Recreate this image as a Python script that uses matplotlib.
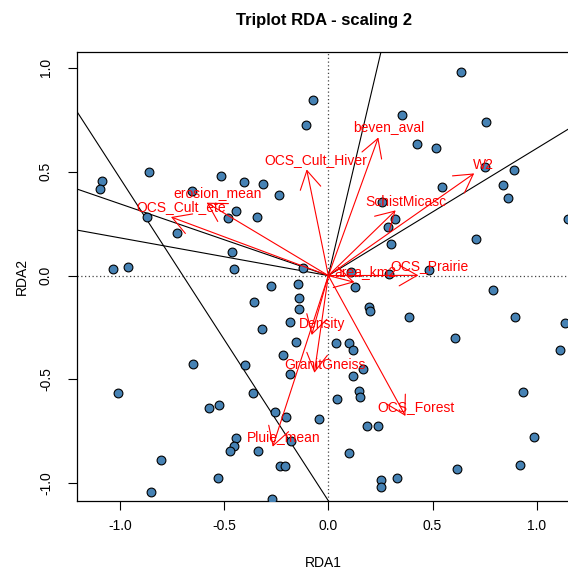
import matplotlib.pyplot as plt
import numpy as np

plt.rcParams['font.family'] = ['Liberation Sans', 'DejaVu Sans']

# site scores (RDA1, RDA2)
site_x = [-0.073, -0.106, -0.861, -1.086, -1.096, -0.515, -0.405, -0.315, -0.654, -0.237,
          -0.442, -0.481, -0.344, -0.870, -0.728, -0.462, -1.035, -0.962, -0.453, -0.121,
          0.637, 0.355, 0.759, 0.424, 0.519, 0.752, 0.890, 0.836, 0.863, 0.546,
          0.258, 0.322, 0.285, 0.300, 0.708, 1.151, 0.107, 0.293, 0.482,
          0.130, 0.792, 0.197, 0.200, 0.389, 0.898, 1.138, 0.610, 1.111, 0.037,
          0.098, 0.117, 0.167, 0.117, 0.146, 0.151, 0.043, 0.933, -0.045, 0.186,
          0.239, 0.989, 0.099, 0.619, 0.922, 0.328, 0.255, 0.255,
          -0.277, -0.146, -0.142, -0.142, -0.357, -0.184, -0.320, -0.154, -0.219, -0.184,
          -0.650, -0.400, -1.010, -0.362, -0.573, -0.525, -0.256, -0.203, -0.443, -0.454,
          -0.473, -0.339, -0.179, -0.803, -0.232, -0.206, -0.530, -0.851, -0.272]
site_y = [0.846, 0.726, 0.498, 0.456, 0.416, 0.478, 0.450, 0.439, 0.408, 0.386,
          0.311, 0.277, 0.282, 0.282, 0.205, 0.112, 0.030, 0.041, 0.030, 0.035,
          0.978, 0.773, 0.739, 0.635, 0.614, 0.522, 0.508, 0.434, 0.373, 0.426,
          0.355, 0.272, 0.235, 0.152, 0.177, 0.271, 0.015, 0.010, 0.025,
          -0.054, -0.071, -0.152, -0.171, -0.201, -0.201, -0.229, -0.302, -0.359, -0.327,
          -0.327, -0.359, -0.450, -0.484, -0.556, -0.587, -0.593, -0.562, -0.689, -0.723,
          -0.723, -0.776, -0.853, -0.930, -0.911, -0.977, -0.985, -1.017,
          -0.051, -0.041, -0.107, -0.163, -0.129, -0.224, -0.259, -0.320, -0.381, -0.473,
          -0.425, -0.429, -0.564, -0.564, -0.636, -0.625, -0.656, -0.681, -0.781, -0.819,
          -0.847, -0.847, -0.797, -0.890, -0.916, -0.917, -0.977, -1.042, -1.076]

# explanatory variables: arrow tips and label positions
var_names = ['beven_aval', 'OCS_Cult_Hiver', 'W2', 'SchistMicasc', 'OCS_Prairie', 'area_km2',
             'OCS_Forest', 'Density', 'GranitGneiss', 'Pluie_mean', 'erosion_mean', 'OCS_Cult_ete']
var_x = [0.240, -0.104, 0.700, 0.323, 0.432, 0.125, 0.370, -0.080, -0.067, -0.267, -0.584, -0.755]
var_y = [0.665, 0.511, 0.492, 0.314, 0.001, -0.032, -0.676, -0.286, -0.468, -0.824, 0.351, 0.282]
lab_x = [0.292, -0.058, 0.744, 0.374, 0.487, 0.176, 0.423, -0.030, -0.014, -0.213, -0.530, -0.706]
lab_y = [0.714, 0.556, 0.532, 0.355, 0.046, 0.018, -0.632, -0.233, -0.431, -0.776, 0.399, 0.331]

# black lines (start, end)
line_x0 = [-1.40, 0.0, 0.0, 0.0, 0.0]
line_y0 = [1.09, 0.0, 0.0, 0.0, 0.0]
line_x1 = [0.05, -1.30, -1.30, 0.30, 1.30]
line_y1 = [-1.162, 0.449, 0.236, 1.279, 0.796]

fig = plt.figure(figsize=(5.68, 5.70), dpi=100)
ax = fig.add_axes([77.3/568, (570-500.7)/570, (570-77.3)/568, (500.7-51.7)/570])
ax.set_xlim(-1.205, 1.160)
ax.set_ylim(-1.084, 1.078)

ax.axhline(0, color='#444444', lw=0.9, ls=(0, (1, 2)), zorder=1)
ax.axvline(0, color='#444444', lw=0.9, ls=(0, (1, 2)), zorder=1)

for i in range(len(line_x0)):
    ax.plot([line_x0[i], line_x1[i]], [line_y0[i], line_y1[i]], color='black', lw=0.8, zorder=2)

ax.scatter(site_x, site_y, s=40, c='#4682B4', edgecolors='black', linewidths=0.8, zorder=3)

for i in range(len(var_names)):
    ax.annotate('', xy=(var_x[i], var_y[i]), xytext=(0, 0),
                arrowprops=dict(arrowstyle='->,head_length=0.65,head_width=0.375',
                                color='red', lw=0.8, shrinkA=0, shrinkB=0,
                                mutation_scale=20), zorder=4)
    ax.text(lab_x[i], lab_y[i], var_names[i], color='red', fontsize=10,
            ha='center', va='center', zorder=5)

ax.set_xticks([-1.0, -0.5, 0.0, 0.5, 1.0])
ax.set_yticks([-1.0, -0.5, 0.0, 0.5, 1.0])
ax.set_xticklabels(['-1.0', '-0.5', '0.0', '0.5', '1.0'])
ax.set_yticklabels(['-1.0', '-0.5', '0.0', '0.5', '1.0'], rotation=90, va='center')
ax.tick_params(direction='out', length=6.5, width=0.8, labelsize=10)
ax.tick_params(axis='x', pad=7)
ax.tick_params(axis='y', pad=11)
for s in ax.spines.values():
    s.set_linewidth(0.9)

ax.set_title('Triplot RDA - scaling 2', fontsize=12, fontweight='bold', pad=19)
ax.set_xlabel('RDA1', fontsize=10, labelpad=16)
ax.set_ylabel('RDA2', fontsize=10, labelpad=7)

fig.savefig('out.png', dpi=100)
